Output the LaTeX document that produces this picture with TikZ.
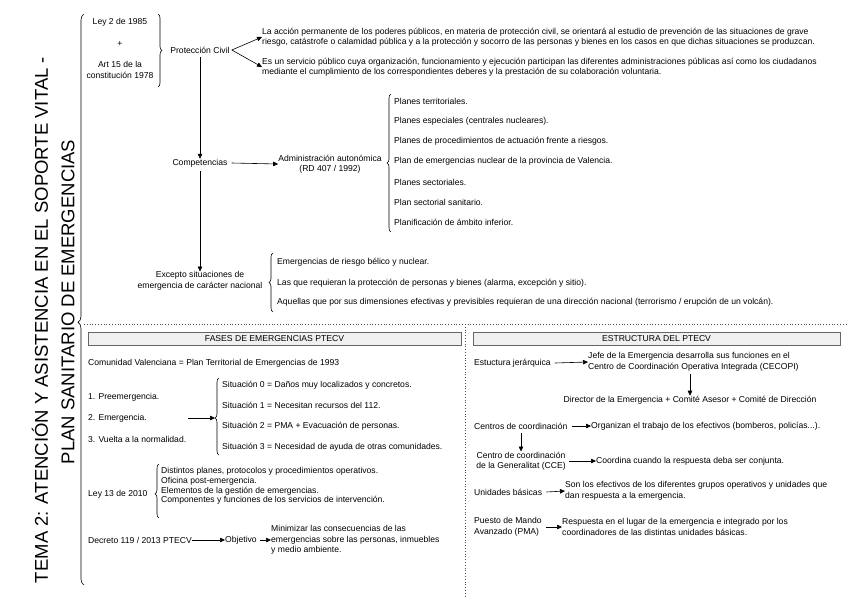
\documentclass[tikz,border=0pt]{standalone}
\usepackage{fontspec}
\setmainfont{Liberation Sans}
\usetikzlibrary{decorations.pathreplacing,arrows.meta}
\begin{document}
\begin{tikzpicture}[x=1pt,y=-1pt,
  txt/.style={font=\fontsize{8.6}{10.5}\selectfont, inner sep=0pt, align=left},
  lt/.style={txt, anchor=west},
  ct/.style={txt, align=center},
  ttl/.style={rotate=90, inner sep=0pt, font=\fontsize{18.5}{20}\selectfont},
  arr/.style={-{Triangle[length=5pt,width=4.5pt]}, line width=0.6pt},
  br/.style={decorate, decoration={brace, amplitude=4pt}, line width=0.6pt},
  hdr/.style={draw=black!60, fill=black!6, line width=0.6pt},
  sep/.style={dotted, line width=0.8pt, black!70}]
\useasboundingbox[fill=white] (0,0) rectangle (848,600);

% title
\node[ttl] (t1) at (40,320) {TEMA 2: ATENCIÓN Y ASISTENCIA EN EL SOPORTE VITAL -};
\node[ttl] (t2) at (68,302) {PLAN SANITARIO DE EMERGENCIAS};

% big brace
\draw[br, decoration={amplitude=6pt, aspect=0.46}] (84,585) -- (84,14);

% top block
\node[ct] (ley) at (120,22) {Ley 2 de 1985};
\node[ct] (plus) at (120,44) {+};
\node[ct] (art) at (120,70) {Art 15 de la\\constitución 1978};
\draw[br] (158,14) -- (158,87);
\node[ct] (pc) at (200,50) {Protección Civil};
\node[lt] (p1) at (262,37) {La acción permanente de los poderes públicos, en materia de protección civil, se orientará al estudio de prevención de las situaciones de grave\\riesgo, catástrofe o calamidad pública y a la protección y socorro de las personas y bienes en los casos en que dichas situaciones se produzcan.};
\node[lt] (p2) at (262,67) {Es un servicio público cuya organización, funcionamiento y ejecución participan las diferentes administraciones públicas así como los ciudadanos\\mediante el cumplimiento de los correspondientes deberes y la prestación de su colaboración voluntaria.};
\draw[arr] (pc.east) ++(2,0) coordinate (pce) (pce) -- (p1.west);
\draw[arr] (pce) -- (p2.west);

\node[ct] (comp) at (200,163) {Competencias};
\draw[arr] (pc.south) ++(0,4) coordinate (pcs) (pcs) -- (comp.north);
\node[ct] (adm) at (330,164) {Administración autonómica\\(RD 407 / 1992)};
\draw[arr] (comp.east) ++(4,0) coordinate (ce) (ce) -- (adm.west);
\draw[br] (391,232) -- (391,94);
\node[lt] (a1) at (394,101) {Planes territoriales.};
\node[lt] (a2) at (394,121) {Planes especiales (centrales nucleares).};
\node[lt] (a3) at (394,141) {Planes de procedimientos de actuación frente a riesgos.};
\node[lt] (a4) at (394,161) {Plan de emergencias nuclear de la provincia de Valencia.};
\node[lt] (a5) at (394,182) {Planes sectoriales.};
\node[lt] (a6) at (394,202) {Plan sectorial sanitario.};
\node[lt] (a7) at (394,222) {Planificación de ámbito inferior.};

\node[ct] (exc) at (200,281) {Excepto situaciones de\\emergencia de carácter nacional};
\draw[arr] (comp.south) ++(0,4) coordinate (cs) (cs) -- (exc.north);
\draw[br] (273,312) -- (273,253);
\node[lt] (e1) at (277,262) {Emergencias de riesgo bélico y nuclear.};
\node[lt] (e2) at (277,283) {Las que requieran la protección de personas y bienes (alarma, excepción y sitio).};
\node[lt] (e3) at (277,302) {Aquellas que por sus dimensiones efectivas y previsibles requieran de una dirección nacional (terrorismo / erupción de un volcán).};

% separators
\draw[sep] (84,324) -- (846,324);
\draw[sep] (465,324) -- (465,598);

% left panel
\draw[hdr] (88,332) rectangle (461,345);
\node[ct] (h1) at (274.5,338.5) {FASES DE EMERGENCIAS PTECV};
\node[lt] (cv) at (88,363) {Comunidad Valenciana = Plan Territorial de Emergencias de 1993};
\node[lt] (f1) at (88,397) {1. Preemergencia.};
\node[lt] (f2) at (88,418) {2. Emergencia.};
\node[lt] (f3) at (88,439) {3. Vuelta a la normalidad.};
\coordinate (fa) at (188,418);
\coordinate (fb) at (215,418);
\draw[arr] (fa) -- (fb);
\draw[br, decoration={aspect=0.48}] (219,455) -- (219,378);
\node[lt] (s0) at (222,385) {Situación 0 = Daños muy localizados y concretos.};
\node[lt] (s1) at (222,405) {Situación 1 = Necesitan recursos del 112.};
\node[lt] (s2) at (222,426) {Situación 2 = PMA + Evacuación de personas.};
\node[lt] (s3) at (222,447) {Situación 3 = Necesidad de ayuda de otras comunidades.};

\node[lt] (ley13) at (88,494) {Ley 13 de 2010};
\draw[br, decoration={aspect=0.45}] (159,518) -- (159,464);
\node[lt, font=\fontsize{8.6}{9.8}\selectfont] (l13) at (161,486) {Distintos planes, protocolos y procedimientos operativos.\\Oficina post-emergencia.\\Elementos de la gestión de emergencias.\\Componentes y funciones de los servicios de intervención.};

\node[lt] (dec) at (88,540) {Decreto 119 / 2013 PTECV};
\node[lt] (obj) at (225,540) {Objetivo};
\node[lt] (min) at (271,540) {Minimizar las consecuencias de las\\emergencias sobre las personas, inmuebles\\y medio ambiente.};
\draw[arr] (dec.east) -- (obj.west);
\draw[arr] (obj.east) ++(3,0) coordinate (oe) (oe) -- (min.west);

% right panel
\draw[hdr] (473,332) rectangle (840,345);
\node[ct] (h2) at (656.5,338.5) {ESTRUCTURA DEL PTECV};
\node[lt] (ej) at (474,363) {Estuctura jerárquica};
\node[lt] (jefe) at (588,362) {Jefe de la Emergencia desarrolla sus funciones en el\\Centro de Coordinación Operativa Integrada (CECOPI)};
\draw[arr] (ej.east) ++(4,0) coordinate (eje) (eje) -- (jefe.west);
\node[ct] (dir) at (690,400) {Director de la Emergencia + Comité Asesor + Comité de Dirección};
\draw[arr] (jefe.south -| dir.north) ++(0,3) coordinate (js) (js) -- (dir.north);

\node[lt] (cc) at (474,426) {Centros de coordinación};
\node[lt] (org) at (591,426) {Organizan el trabajo de los efectivos (bomberos, policías...).};
\draw[arr] (cc.east) ++(4,0) coordinate (cce) (cce) -- (org.west);
\node[ct] (cg) at (521,461) {Centro de coordinación\\de la Generalitat (CCE)};
\draw[arr] (cc.south -| cg.north) ++(0,4) coordinate (ccs) (ccs) -- (cg.north);
\node[lt] (coo) at (596,461) {Coordina cuando la respuesta deba ser conjunta.};
\draw[arr] (cg.east) ++(3,0) coordinate (cge) (cge) -- (coo.west);

\node[lt] (ub) at (474,492) {Unidades básicas};
\node[lt] (son) at (565,491) {Son los efectivos de los diferentes grupos operativos y unidades que\\dan respuesta a la emergencia.};
\draw[arr] (ub.east) ++(4,0) coordinate (ube) (ube) -- (son.west);

\node[lt] (pma) at (474,527) {Puesto de Mando\\Avanzado (PMA)};
\node[lt] (res) at (562,527) {Respuesta en el lugar de la emergencia e integrado por los\\coordinadores de las distintas unidades básicas.};
\draw[arr] (pma.east) ++(4,0) coordinate (pmae) (pmae) -- (res.west);
\end{tikzpicture}
\end{document}
